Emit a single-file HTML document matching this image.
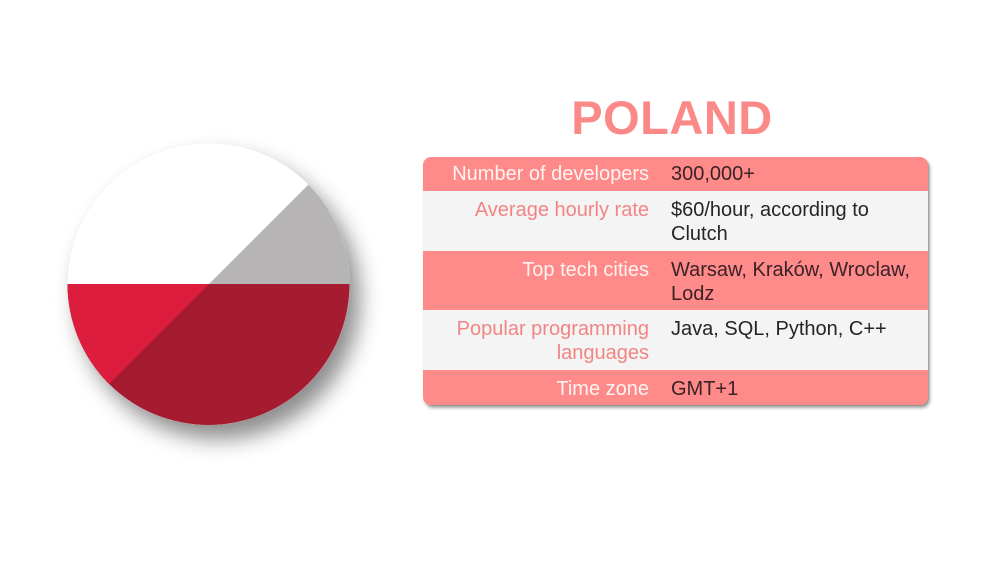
<!DOCTYPE html>
<html>
<head>
<meta charset="utf-8">
<style>
  html,body{margin:0;padding:0;background:#fff;}
  body{width:1000px;height:563px;position:relative;overflow:hidden;font-family:"Liberation Sans",sans-serif;}
  .title{position:absolute;left:472px;width:400px;top:94px;text-align:center;font-size:47px;line-height:47px;font-weight:bold;color:#fb8987;letter-spacing:0.5px;}
  .table{position:absolute;left:423px;top:157px;width:505px;height:248px;border-radius:8px;overflow:hidden;box-shadow:2px 3px 3px rgba(0,0,0,0.35),1px 1px 1px rgba(0,0,0,0.15);background:#f4f4f4;}
  .row{position:absolute;left:0;width:505px;}
  .pink{background:#fe8a8a;}
  .grey{background:#f4f4f4;}
  .lab{position:absolute;left:0;width:226px;text-align:right;font-size:20px;line-height:24px;white-space:nowrap;}
  .val{position:absolute;left:248px;font-size:20px;line-height:24px;white-space:nowrap;}
  .pink .lab{color:#fff4f2;}
  .grey .lab{color:#f28583;}
  .pink .val{color:#3a2226;}
  .grey .val{color:#252525;}
</style>
</head>
<body>
<svg width="1000" height="563" style="position:absolute;left:0;top:0;">
  <defs>
    <clipPath id="c"><circle cx="208.5" cy="284" r="141"/></clipPath>
    <filter id="sh" x="-30%" y="-30%" width="160%" height="160%">
      <feDropShadow dx="10" dy="14" stdDeviation="11" flood-color="#000" flood-opacity="0.45"/>
    </filter>
  </defs>
  <circle cx="208.5" cy="284" r="141" fill="#fff" filter="url(#sh)"/>
  <g clip-path="url(#c)">
    <rect x="60" y="130" width="300" height="154" fill="#b6b4b5"/>
    <polygon points="60,130 363,130 209,284 60,284" fill="#ffffff"/>
    <rect x="60" y="284" width="300" height="150" fill="#a51c30"/>
    <polygon points="60,284 209,284 60,433" fill="#dc1d3d"/>
  </g>
</svg>
<div class="title">POLAND</div>
<div class="table">
  <div class="row pink" style="top:0;height:34px;">
    <div class="lab" style="top:5px;">Number of developers</div>
    <div class="val" style="top:5px;">300,000+</div>
  </div>
  <div class="row grey" style="top:34px;height:60px;">
    <div class="lab" style="top:7px;">Average hourly rate</div>
    <div class="val" style="top:7px;">$60/hour, according to<br>Clutch</div>
  </div>
  <div class="row pink" style="top:94px;height:59px;">
    <div class="lab" style="top:7px;">Top tech cities</div>
    <div class="val" style="top:7px;">Warsaw, Kraków, Wroclaw,<br>Lodz</div>
  </div>
  <div class="row grey" style="top:153px;height:60px;">
    <div class="lab" style="top:7px;">Popular programming<br>languages</div>
    <div class="val" style="top:7px;">Java, SQL, Python, C++</div>
  </div>
  <div class="row pink" style="top:213px;height:35px;">
    <div class="lab" style="top:7px;">Time zone</div>
    <div class="val" style="top:7px;">GMT+1</div>
  </div>
</div>
</body>
</html>
